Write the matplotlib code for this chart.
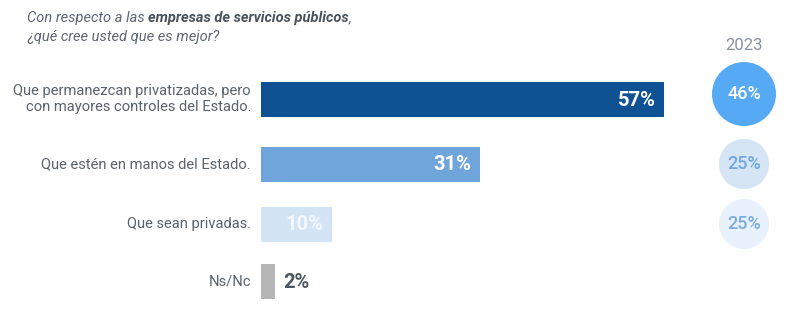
import numpy as np
import matplotlib.pyplot as plt
from matplotlib.patches import Circle

plt.rcParams['font.family'] = ['Roboto', 'DejaVu Sans']

# data
categories = ['Que permanezcan privatizadas, pero\ncon mayores controles del Estado.',
              'Que estén en manos del Estado.',
              'Que sean privadas.',
              'Ns/Nc']
values_2024 = [57, 31, 10, 2]
values_2023 = [46, 25, 25]
prev_year = '2023'

bar_colors = ['#0f5293', '#6fa5db', '#d3e4f5', '#b5b5b5']
val_colors = ['white', 'white', '#f4f8fd', '#4b5661']
circ_face = ['#56a9f5', '#d5e5f6', '#e9f2fc']
circ_text = ['white', '#72a7dd', '#79addf']

W, H = 800, 331
fig = plt.figure(figsize=(W / 100, H / 100), dpi=100)
fig.patch.set_facecolor('white')

# row centres in pixels (layout)
row_y = [99, 164, 224, 281]
px_per_unit = 7.07
x0 = 261

ax = fig.add_axes([x0 / W, 0, 60 * px_per_unit / W, 1])
ax.set_xlim(0, 60)
ax.set_ylim(H, 0)
ax.axis('off')
ax.barh(row_y, values_2024, height=35, color=bar_colors)

for y, v, c, lab in zip(row_y, values_2024, val_colors, categories):
    if v >= 5:
        ax.text(v - 1.2, y + 1, f'{v}%', ha='right', va='center', color=c,
                fontsize=14.5, fontweight='bold')
    else:
        ax.text(v + 1.2, y + 2, f'{v}%', ha='left', va='center', color=c,
                fontsize=14.5, fontweight='bold')
    ax.text(-1.4, y, lab, ha='right', va='center', color='#5a626b',
            fontsize=10.65, linespacing=1.1)

# overlay for title and 2023 circles, in pixel coords
ov = fig.add_axes([0, 0, 1, 1])
ov.set_xlim(0, W)
ov.set_ylim(H, 0)
ov.axis('off')

t1 = ov.text(27, 18, 'Con respecto a las ', ha='left', va='center',
             style='italic', color='#5f6670', fontsize=10.5)
t2 = ov.annotate('empresas de servicios públicos', xy=(1, 0.5),
                 xycoords=t1, ha='left', va='center', style='italic',
                 fontweight='bold', color='#4b525a', fontsize=10.5)
ov.annotate(',', xy=(1, 0.5), xycoords=t2, ha='left', va='center',
            style='italic', color='#5f6670', fontsize=10.5)
ov.text(27, 37, '¿qué cree usted que es mejor?', ha='left', va='center',
        style='italic', color='#5f6670', fontsize=10.5)

cx = 744
ov.text(cx, 45, prev_year, ha='center', va='center', color='#8a9097',
        fontsize=12)
for y, v, fc, tc in zip(row_y, values_2023, circ_face, circ_text):
    r = 32 * np.sqrt(v / 46) + 1.5 * (v != 46)
    cy = y - 5 if v == 46 else y
    ov.add_patch(Circle((cx, cy), r, color=fc, lw=0))
    ov.text(cx, cy, f'{v}%', ha='center', va='center',
            color=tc, fontsize=13, fontweight='medium')

fig.savefig('out.png', dpi=100)
